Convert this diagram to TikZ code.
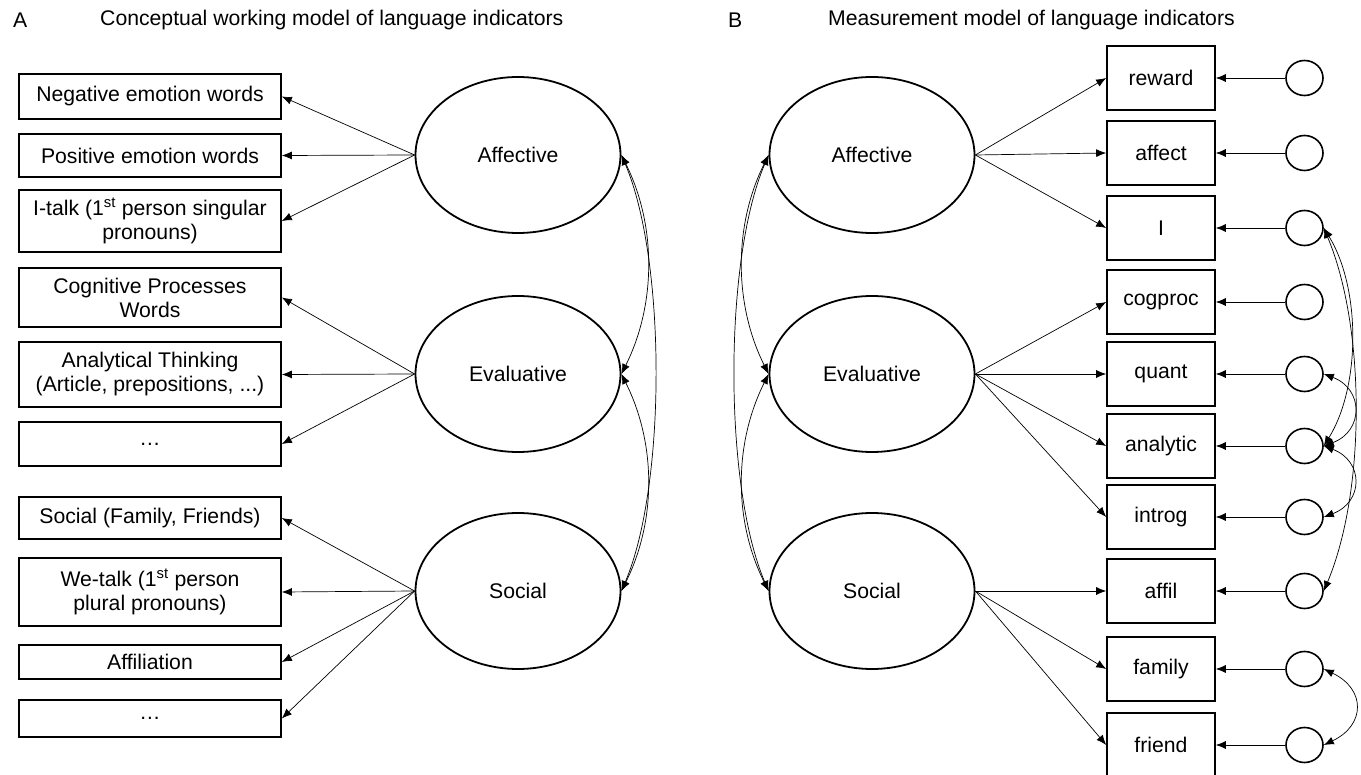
\documentclass[tikz,border=0pt]{standalone}
\usepackage{fontspec}
\setmainfont{Liberation Sans}
\usetikzlibrary{shapes.geometric,arrows.meta}
\begin{document}
\begin{tikzpicture}[x=1pt,y=-1pt,
  every node/.style={font=\fontsize{21.2}{24}\selectfont},
  boxA/.style={draw,line width=1.6pt,minimum width=262pt,align=center,inner sep=0pt},
  boxB/.style={draw,line width=1.6pt,minimum width=108pt,minimum height=64pt,inner sep=0pt},
  lat/.style={draw,ellipse,line width=1.8pt,minimum width=205pt,minimum height=156pt,inner sep=0pt},
  res/.style={draw,ellipse,line width=1.6pt,minimum width=37pt,minimum height=35pt,inner sep=0pt},
  ld/.style={-{Latex[length=10pt,width=8pt]},line width=0.7pt},
  cov/.style={{Latex[length=10pt,width=8pt]}-{Latex[length=10pt,width=8pt]},line width=0.7pt}
]
\useasboundingbox (0,0) rectangle (1361,775);
% titles
\node[anchor=west,inner sep=0pt] (tA) at (13,20) {A};
\node[anchor=west,inner sep=0pt] (tAt) at (100,20) {Conceptual working model of language indicators};
\node[anchor=west,inner sep=0pt] (tB) at (728,20) {B};
\node[anchor=west,inner sep=0pt] (tBt) at (828,20) {Measurement model of language indicators};
% Panel A boxes
\node[boxA,minimum height=45pt] (a1) at (150,96.5) {Negative emotion words};
\node[boxA,minimum height=43pt] (a2) at (150,155.5) {Positive emotion words};
\node[boxA,minimum height=62pt] (a3) at (150,221) {I-talk (1\textsuperscript{st} person singular\\pronouns)};
\node[boxA,minimum height=59pt] (a4) at (150,297.5) {Cognitive Processes\\Words};
\node[boxA,minimum height=65pt] (a5) at (150,374.5) {Analytical Thinking\\(Article, prepositions, ...)};
\node[boxA,minimum height=44pt] (a6) at (150,444) {\dots};
\node[boxA,minimum height=42pt] (a7) at (150,518) {Social (Family, Friends)};
\node[boxA,minimum height=68pt] (a8) at (150,592) {We-talk (1\textsuperscript{st} person\\plural pronouns)};
\node[boxA,minimum height=34pt] (a9) at (150,662) {Affiliation};
\node[boxA,minimum height=37pt] (a10) at (150,718.5) {\dots};
% Panel A latents
\node[lat] (LAa) at (518,155) {Affective};
\node[lat] (LAe) at (518,374) {Evaluative};
\node[lat] (LAs) at (518,591) {Social};
\foreach \b in {a1,a2,a3} \draw[ld] (LAa.west) -- (\b.east);
\foreach \b in {a4,a5,a6} \draw[ld] (LAe.west) -- (\b.east);
\foreach \b in {a7,a8,a9,a10} \draw[ld] (LAs.west) -- (\b.east);
\draw[cov] (LAa.east) .. controls +(35,70) and +(35,-70) .. (LAe.east);
\draw[cov] (LAe.east) .. controls +(35,70) and +(35,-70) .. (LAs.east);
\draw[cov] (LAa.east) .. controls +(45,105) and +(45,-105) .. (LAs.east);
% Panel B latents
\node[lat] (LBa) at (872,155) {Affective};
\node[lat] (LBe) at (872,374) {Evaluative};
\node[lat] (LBs) at (872,591) {Social};
% Panel B indicators
\foreach \n/\t/\y in {reward/reward/78,affect/affect/153,I/I/228,cogproc/cogproc/302,quant/quant/374,analytic/analytic/446,introg/introg/517,affil/affil/591,family/family/669,friend/friend/745}{
  \node[boxB] (b\n) at (1161,\y) {\t};
  \node[res] (r\n) at (1304.5,\y) {};
  \draw[ld] (r\n.west) -- (b\n.east);
}
\foreach \b in {reward,affect,I} \draw[ld] (LBa.east) -- (b\b.west);
\foreach \b in {cogproc,quant,analytic,introg} \draw[ld] (LBe.east) -- (b\b.west);
\foreach \b in {affil,family,friend} \draw[ld] (LBs.east) -- (b\b.west);
\draw[cov] (LBa.west) .. controls +(-35,70) and +(-35,-70) .. (LBe.west);
\draw[cov] (LBe.west) .. controls +(-35,70) and +(-35,-70) .. (LBs.west);
\draw[cov] (LBa.west) .. controls +(-45,105) and +(-45,-105) .. (LBs.west);
% residual covariances
\draw[cov] (rI.east) .. controls +(37,60) and +(37,-60) .. (ranalytic.east);
\draw[cov] (rI.east) .. controls +(42,100) and +(42,-100) .. (raffil.east);
\draw[cov] (rquant.east) .. controls +(40,15) and +(40,-15) .. (ranalytic.east);
\draw[cov] (ranalytic.east) .. controls +(40,15) and +(40,-15) .. (rintrog.east);
\draw[cov] (rfamily.east) .. controls +(42,20) and +(42,-20) .. (rfriend.east);
\end{tikzpicture}
\end{document}
